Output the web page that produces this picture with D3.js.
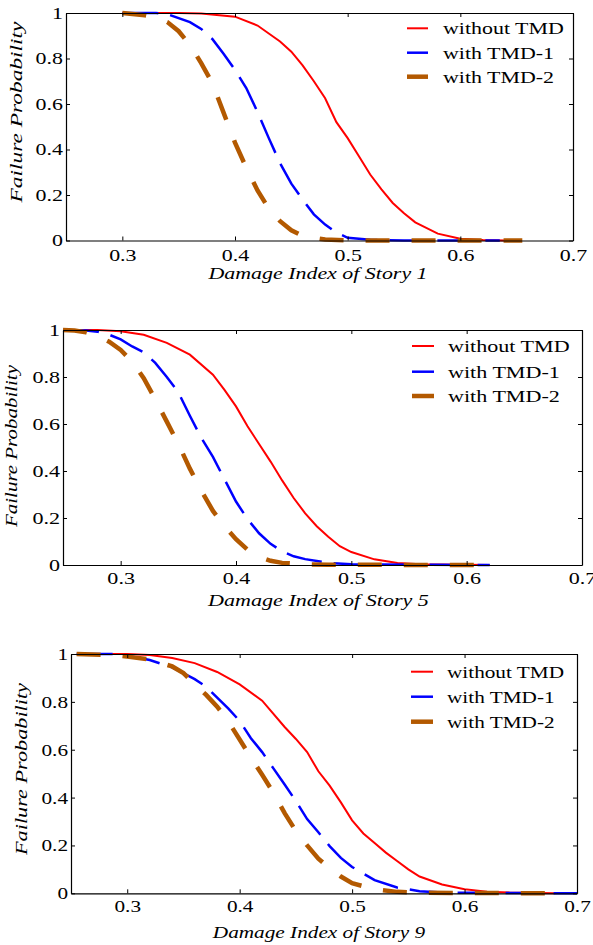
<!DOCTYPE html>
<html>
<head>
<meta charset="utf-8">
<script src="https://cdn.jsdelivr.net/npm/d3@7"></script>
<style>
  body { margin: 0; background: #fff; }
  svg text { font-family: 'Liberation Serif', 'Times New Roman', Times, 'DejaVu Serif', serif; fill: #000; }
</style>
</head>
<body>
<div class="chart"></div>
<script>
const xTicks = [0.3, 0.4, 0.5, 0.6, 0.7];
const yTicks = [0, 0.2, 0.4, 0.6, 0.8, 1];
const seriesNames = ['without TMD', 'with TMD-1', 'with TMD-2'];

// story 1
const s1NoTmdX = [0.30, 0.35, 0.37, 0.40, 0.42, 0.44, 0.45, 0.46, 0.47, 0.48, 0.49, 0.50, 0.51, 0.52, 0.53, 0.54, 0.55, 0.56, 0.58, 0.60, 0.62, 0.64];
const s1NoTmdP = [1, 1, 0.998, 0.984, 0.945, 0.875, 0.83, 0.77, 0.70, 0.625, 0.52, 0.45, 0.37, 0.29, 0.225, 0.165, 0.12, 0.08, 0.03, 0.008, 0.002, 0];
const s1Tmd1X = [0.30, 0.33, 0.34, 0.36, 0.37, 0.38, 0.39, 0.40, 0.41, 0.42, 0.43, 0.44, 0.45, 0.46, 0.47, 0.48, 0.49, 0.50, 0.52, 0.55, 0.635];
const s1Tmd1P = [1, 1, 0.995, 0.96, 0.93, 0.885, 0.82, 0.75, 0.67, 0.565, 0.45, 0.34, 0.25, 0.18, 0.115, 0.07, 0.035, 0.012, 0.003, 0, 0];
const s1Tmd2X = [0.30, 0.32, 0.33, 0.34, 0.35, 0.36, 0.37, 0.38, 0.39, 0.40, 0.41, 0.42, 0.43, 0.44, 0.45, 0.46, 0.48, 0.50, 0.655];
const s1Tmd2P = [1, 0.99, 0.98, 0.96, 0.92, 0.86, 0.78, 0.69, 0.56, 0.43, 0.32, 0.22, 0.14, 0.085, 0.045, 0.02, 0.004, 0, 0];

// story 5
const s5NoTmdX = [0.25, 0.28, 0.30, 0.32, 0.34, 0.36, 0.38, 0.39, 0.40, 0.41, 0.42, 0.43, 0.44, 0.45, 0.46, 0.47, 0.48, 0.49, 0.50, 0.52, 0.54, 0.56, 0.62];
const s5NoTmdP = [1, 1, 0.995, 0.98, 0.945, 0.895, 0.81, 0.745, 0.675, 0.59, 0.515, 0.44, 0.36, 0.285, 0.22, 0.165, 0.12, 0.08, 0.055, 0.024, 0.009, 0.003, 0];
const s5Tmd1X = [0.25, 0.27, 0.28, 0.29, 0.30, 0.31, 0.32, 0.33, 0.34, 0.35, 0.36, 0.37, 0.38, 0.39, 0.40, 0.41, 0.42, 0.43, 0.44, 0.45, 0.46, 0.48, 0.50, 0.62];
const s5Tmd1P = [1, 0.998, 0.993, 0.98, 0.96, 0.93, 0.905, 0.86, 0.80, 0.735, 0.635, 0.54, 0.46, 0.365, 0.27, 0.195, 0.135, 0.09, 0.058, 0.037, 0.025, 0.009, 0.003, 0];
const s5Tmd2X = [0.25, 0.26, 0.27, 0.28, 0.29, 0.30, 0.31, 0.32, 0.33, 0.34, 0.35, 0.36, 0.37, 0.38, 0.39, 0.40, 0.41, 0.42, 0.43, 0.44, 0.46, 0.48, 0.61];
const s5Tmd2P = [1, 0.998, 0.99, 0.975, 0.95, 0.915, 0.865, 0.795, 0.705, 0.61, 0.515, 0.41, 0.315, 0.23, 0.165, 0.11, 0.065, 0.035, 0.018, 0.009, 0.003, 0.001, 0];

// story 9
const s9NoTmdX = [0.26, 0.30, 0.32, 0.34, 0.36, 0.38, 0.40, 0.42, 0.44, 0.45, 0.46, 0.47, 0.48, 0.49, 0.50, 0.51, 0.52, 0.53, 0.54, 0.55, 0.56, 0.58, 0.60, 0.62, 0.64, 0.68];
const s9NoTmdP = [1, 1, 0.996, 0.983, 0.962, 0.925, 0.873, 0.805, 0.695, 0.645, 0.59, 0.51, 0.45, 0.38, 0.305, 0.25, 0.21, 0.17, 0.135, 0.10, 0.07, 0.037, 0.017, 0.007, 0.003, 0];
const s9Tmd1X = [0.255, 0.29, 0.30, 0.32, 0.34, 0.36, 0.37, 0.38, 0.39, 0.40, 0.41, 0.42, 0.43, 0.44, 0.45, 0.46, 0.47, 0.48, 0.49, 0.50, 0.52, 0.54, 0.56, 0.58, 0.70];
const s9Tmd1P = [1, 1, 0.993, 0.975, 0.944, 0.895, 0.864, 0.818, 0.772, 0.72, 0.648, 0.59, 0.522, 0.455, 0.385, 0.31, 0.255, 0.197, 0.148, 0.11, 0.055, 0.024, 0.009, 0.003, 0];
const s9Tmd2X = [0.255, 0.29, 0.30, 0.32, 0.34, 0.35, 0.36, 0.37, 0.38, 0.39, 0.40, 0.41, 0.42, 0.43, 0.44, 0.45, 0.46, 0.47, 0.48, 0.49, 0.50, 0.52, 0.54, 0.56, 0.68];
const s9Tmd2P = [1, 0.995, 0.989, 0.977, 0.948, 0.92, 0.875, 0.83, 0.78, 0.717, 0.643, 0.567, 0.495, 0.42, 0.335, 0.26, 0.2, 0.145, 0.105, 0.07, 0.042, 0.017, 0.006, 0.002, 0];

const styles = [
  { color: '#ff0000', width: 2, dash: null },
  { color: '#0000ff', width: 2.5, dash: '36,12' },
  { color: '#b35900', width: 4.5, dash: '24,22' }
];

const panels = [
  {
    title: 'Damage Index of Story 1',
    series: [[s1NoTmdX, s1NoTmdP], [s1Tmd1X, s1Tmd1P], [s1Tmd2X, s1Tmd2P]],
    left: 66, right: 573, top: 13, bottom: 240.5, k: 1.29, pad: 8.5,
    titleX: 318, titleY: 279, yTitleX: 22, yTitleY: 112, yTitleLen: 181,
    legLine: [407, 428], legText: 443, legY: [28.3, 52.7, 76.7]
  },
  {
    title: 'Damage Index of Story 5',
    series: [[s5NoTmdX, s5NoTmdP], [s5Tmd1X, s5Tmd1P], [s5Tmd2X, s5Tmd2P]],
    left: 63, right: 582, top: 330, bottom: 565, k: 1.30, pad: 6.5,
    titleX: 318.5, titleY: 606, yTitleX: 17, yTitleY: 446, yTitleLen: 162,
    legLine: [412, 434], legText: 448, legY: [346, 371.7, 396]
  },
  {
    title: 'Damage Index of Story 9',
    series: [[s9NoTmdX, s9NoTmdP], [s9Tmd1X, s9Tmd1P], [s9Tmd2X, s9Tmd2P]],
    left: 71, right: 577, top: 654, bottom: 893.3, k: 1.25, pad: 6.5,
    titleX: 319, titleY: 938, yTitleX: 27, yTitleY: 769, yTitleLen: 172,
    legLine: [411, 433], legText: 447, legY: [671.7, 696.7, 721.7]
  }
];

const width = 593;
const height = 945;
const fontSize = 17;
const serif = "'Liberation Serif', 'Times New Roman', Times, 'DejaVu Serif', serif";

const svg = d3.select('.chart').append('svg')
  .attr('width', width)
  .attr('height', height)
  .attr('font-family', serif);

// widen text horizontally like the source image
function stretch(sel, k) {
  sel.each(function () {
    const t = d3.select(this);
    const x = +t.attr('x') || 0;
    t.attr('x', x / k).attr('transform', `scale(${k},1)`);
  });
}

panels.forEach(p => {
  const x = d3.scaleLinear().domain([0.25, 0.7]).range([p.left, p.right]);
  const y = d3.scaleLinear().domain([0, 1]).range([p.bottom, p.top]);
  const g = svg.append('g');

  const line = d3.line()
    .x(d => x(d[0]))
    .y(d => y(d[1]));

  p.series.forEach((s, i) => {
    const pts = s[0].map((v, j) => [v, s[1][j]]);
    g.append('path')
      .datum(pts)
      .attr('d', line)
      .attr('fill', 'none')
      .attr('stroke', styles[i].color)
      .attr('stroke-width', styles[i].width)
      .attr('stroke-dasharray', styles[i].dash);
  });

  const fmt = d => String(d);
  const bottomAx = g.append('g')
    .attr('transform', `translate(0,${p.bottom})`)
    .call(d3.axisBottom(x).tickValues(xTicks).tickSize(-4).tickSizeOuter(0).tickPadding(p.pad).tickFormat(fmt));
  const leftAx = g.append('g')
    .attr('transform', `translate(${p.left},0)`)
    .call(d3.axisLeft(y).tickValues(yTicks).tickSize(-4).tickSizeOuter(0).tickPadding(3).tickFormat(fmt));
  g.append('g')
    .attr('transform', `translate(0,${p.top})`)
    .call(d3.axisTop(x).tickValues(xTicks).tickSize(-4).tickSizeOuter(0).tickFormat(''));
  g.append('g')
    .attr('transform', `translate(${p.right},0)`)
    .call(d3.axisRight(y).tickValues(yTicks).tickSize(-4).tickSizeOuter(0).tickFormat(''));

  g.selectAll('.domain').attr('stroke', '#000').attr('stroke-width', 1.2);
  g.selectAll('.tick line').attr('stroke', '#000');
  g.selectAll('g').attr('font-family', serif).attr('font-size', fontSize);
  g.selectAll('.tick text').attr('fill', '#000');
  stretch(bottomAx.selectAll('.tick text'), p.k);
  stretch(leftAx.selectAll('.tick text'), p.k);

  g.append('text')
    .attr('x', p.titleX / p.k)
    .attr('y', p.titleY)
    .attr('transform', `scale(${p.k},1)`)
    .attr('text-anchor', 'middle')
    .attr('font-style', 'italic')
    .attr('font-size', fontSize)
    .text(p.title);

  g.append('text')
    .attr('transform', `translate(${p.yTitleX},${p.yTitleY}) rotate(-90)`)
    .attr('text-anchor', 'middle')
    .attr('textLength', p.yTitleLen)
    .attr('lengthAdjust', 'spacingAndGlyphs')
    .attr('font-style', 'italic')
    .attr('font-size', fontSize)
    .text('Failure Probability');

  const leg = g.append('g');
  seriesNames.forEach((name, i) => {
    leg.append('line')
      .attr('x1', p.legLine[0]).attr('x2', p.legLine[1])
      .attr('y1', p.legY[i]).attr('y2', p.legY[i])
      .attr('stroke', styles[i].color)
      .attr('stroke-width', styles[i].width);
    leg.append('text')
      .attr('x', p.legText / p.k)
      .attr('y', p.legY[i] + 6)
      .attr('transform', `scale(${p.k},1)`)
      .attr('font-size', fontSize)
      .text(name);
  });
});
</script>
</body>
</html>
